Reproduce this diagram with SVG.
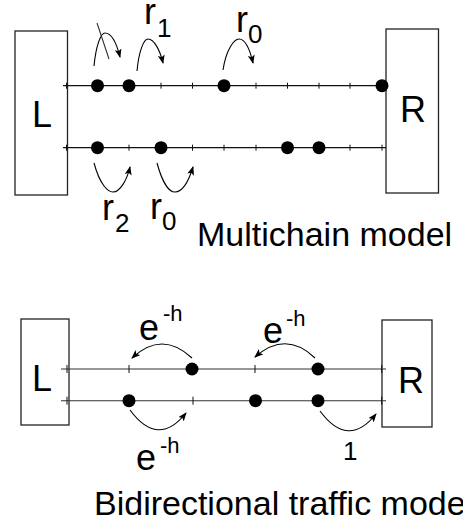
<svg xmlns="http://www.w3.org/2000/svg" width="463" height="522" viewBox="0 0 463 522">
<style>
.box{fill:#fff;stroke:#222;stroke-width:1.3}
.ln{stroke:#111;stroke-width:1.3;fill:none}
.ln2{stroke:#333;stroke-width:1.1;fill:none}
.tk{stroke:#111;stroke-width:1}
.dot{fill:#000}
.arc{stroke:#000;stroke-width:1.1;fill:none;marker-end:url(#ah)}
.t{font-family:"Liberation Sans",Arial,sans-serif;font-size:34px;fill:#000}
.b{font-family:"Liberation Sans",Arial,sans-serif;font-size:36px;fill:#000}
.s{font-family:"Liberation Sans",Arial,sans-serif;font-size:26px;fill:#000}
.sp{font-family:"Liberation Sans",Arial,sans-serif;font-size:22px;fill:#000}
</style>
<defs>
<marker id="ah" markerUnits="userSpaceOnUse" markerWidth="9" markerHeight="7" refX="8" refY="3.5" orient="auto">
<path d="M0,0 L9,3.5 L0,7 L2,3.5 z" fill="#000"/>
</marker>
</defs>
<rect width="463" height="522" fill="#fff"/>
<g id="L1"><rect class="box" x="15" y="31" width="52.5" height="164"/><text class="b" x="32" y="127">L</text></g>
<g id="R1"><rect class="box" x="386" y="29" width="52.5" height="164"/><text class="b" x="400" y="122">R</text></g>
<g id="L2"><rect class="box" x="21" y="319" width="48" height="106"/><text class="b" x="32" y="391">L</text></g>
<g id="R2"><rect class="box" x="382" y="320" width="50" height="107"/><text class="b" x="398" y="393">R</text></g>
<g id="connectors">
<line class="ln" x1="63" y1="85.7" x2="386" y2="85.7"/>
<line class="ln" x1="63" y1="147.7" x2="386" y2="147.7"/>
<g class="tk">
<line x1="66.5" y1="82.7" x2="66.5" y2="88.7"/><line x1="161" y1="82.7" x2="161" y2="88.7"/><line x1="192.5" y1="82.7" x2="192.5" y2="88.7"/><line x1="256" y1="82.7" x2="256" y2="88.7"/><line x1="287.5" y1="82.7" x2="287.5" y2="88.7"/><line x1="319" y1="82.7" x2="319" y2="88.7"/><line x1="350" y1="82.7" x2="350" y2="88.7"/>
<line x1="66.5" y1="144.7" x2="66.5" y2="150.7"/><line x1="129" y1="144.7" x2="129" y2="150.7"/><line x1="192.5" y1="144.7" x2="192.5" y2="150.7"/><line x1="224" y1="144.7" x2="224" y2="150.7"/><line x1="256" y1="144.7" x2="256" y2="150.7"/><line x1="350" y1="144.7" x2="350" y2="150.7"/><line x1="382" y1="144.7" x2="382" y2="150.7"/>
</g>
<path class="arc" d="M94,66 C96,45 101,33 105,33 C112,33 117,45 120,57"/>
<line class="ln2" x1="97" y1="23" x2="109" y2="59"/>
<path class="arc" d="M137,71 C139,50 144,39 148,39 C154,39 160,50 163,63"/>
<path class="arc" d="M223,70 C226,50 234,39 239,39 C245,39 250,50 253,63"/>
<path class="arc" d="M94,163 C100,185 108,192 113,192 C120,192 127,180 130,167"/>
<path class="arc" d="M157,163 C163,185 170,192 175,192 C183,192 189,180 193,167"/>
<line class="ln2" x1="61" y1="369" x2="386" y2="369"/>
<line class="ln2" x1="61" y1="400.7" x2="386" y2="400.7"/>
<g class="tk">
<line x1="67" y1="365" x2="67" y2="373"/><line x1="129" y1="365" x2="129" y2="373"/><line x1="255" y1="365" x2="255" y2="373"/><line x1="381.7" y1="365" x2="381.7" y2="373"/>
<line x1="67" y1="396.7" x2="67" y2="404.7"/><line x1="193" y1="396.7" x2="193" y2="404.7"/><line x1="381.7" y1="396.7" x2="381.7" y2="404.7"/>
</g>
<path class="arc" d="M192,358 Q162,330 132,358"/>
<path class="arc" d="M315,358 Q286,330 255,357"/>
<path class="arc" d="M130,410 Q158,448 186,413"/>
<path class="arc" d="M320,411 Q348,449 376,414"/>
</g>
<g id="particles">
<circle class="dot" cx="97.5" cy="85.7" r="6.5"/><circle class="dot" cx="129" cy="85.7" r="6.5"/><circle class="dot" cx="224" cy="85.7" r="6.5"/><circle class="dot" cx="382" cy="85.7" r="6.5"/>
<circle class="dot" cx="97.5" cy="147.7" r="6.5"/><circle class="dot" cx="161" cy="147.7" r="6.5"/><circle class="dot" cx="287.5" cy="147.7" r="6.5"/><circle class="dot" cx="319" cy="147.7" r="6.5"/>
<circle class="dot" cx="192" cy="369" r="6.5"/><circle class="dot" cx="318" cy="369" r="6.5"/>
<circle class="dot" cx="129" cy="400.7" r="6.5"/><circle class="dot" cx="255.5" cy="400.7" r="6.5"/><circle class="dot" cx="318" cy="400.7" r="6.5"/>
</g>
<g id="labels">
<text class="b" x="144" y="24">r</text><text class="s" x="157" y="37">1</text>
<text class="b" x="236" y="32">r</text><text class="s" x="248" y="43">0</text>
<text class="b" x="102" y="220">r</text><text class="s" x="115" y="232">2</text>
<text class="b" x="150" y="219">r</text><text class="s" x="162" y="230">0</text>
<text class="t" x="197" y="246">Multichain model</text>
<text class="b" x="139" y="340">e</text><text class="sp" x="163" y="321">-h</text>
<text class="b" x="263" y="343">e</text><text class="sp" x="286" y="326">-h</text>
<text class="b" x="136" y="470">e</text><text class="sp" x="160" y="453">-h</text>
<text class="s" x="343" y="460">1</text>
<text class="t" x="94" y="515">Bidirectional traffic model</text>
</g>
</svg>
